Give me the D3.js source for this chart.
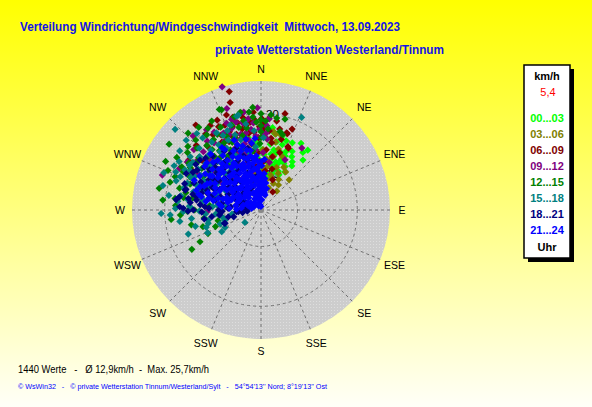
<!DOCTYPE html>
<html><head><meta charset="utf-8">
<script src="https://cdn.jsdelivr.net/npm/d3@7"></script>
<style>html,body{margin:0;padding:0;overflow:hidden;background:#fff;} svg{display:block;}</style>
</head><body>
<svg id="c" width="592" height="407"></svg>
<script>
// ---------- data ----------
const titleText = "Verteilung Windrichtung/Windgeschwindigkeit  Mittwoch, 13.09.2023";
const subtitleText = "private Wetterstation Westerland/Tinnum";
const statsText = "1440 Werte   -   \u00D8 12,9km/h  -  Max. 25,7km/h";
const creditText = "\u00A9 WsWin32   -   \u00A9 private Wetterstation Tinnum/Westerland/Sylt   -   54\u00B054'13'' Nord; 8\u00B019'13'' Ost";
const compassLabels = ["N","NNE","NE","ENE","E","ESE","SE","SSE","S","SSW","SW","WSW","W","WNW","NW","NNW"];
const ringTicks = [10, 20];
const speedDomain = [3.9, 25.3];
const legendUnit = "km/h";
const currentValue = "5,4";
const hourBins = ["00...03","03...06","06...09","09...12","12...15","15...18","18...21","21...24"];
const legendFoot = "Uhr";

// [direction in degrees, speed km/h] per 3-hour block
const s0003 = [[352,17.1],[350,16.2],[355,15.5],[358,14.8],[2,16.5],[5,15.8],[8,15.0],[10,16.9],[12,14.2],[14,17.2],[16,16.7],[18,15.4],[20,14.0],[22,13.1],[25,16.3],[26,12.6],[28,15.0],[30,14.2],[33,13.5],[36,15.8],[38,16.6],[40,14.8],[3,13.2],[6,12.4],[9,11.8],[12,12.8],[15,11.5],[18,11.3],[21,12.6],[24,11.0],[27,10.5],[7,10.2],[4,9.5],[11,9.8],[15,13.8],[19,12.0],[23,14.5],[29,12.2],[32,11.4],[1,14.0],[357,12.5],[0,11.0],[17,10.3],[13,15.6],[8,17.8],[348,16.8],[20,16.2],[24,13.8],[31,16.9],[35,12.9],[10,13.4],[17,12.3]];
const s0306 = [[9,17.2],[11,16.8],[14,17.0],[43,10.8],[25,10.7],[5,8.4],[8,11.2],[13,13.1],[25,8.8],[18,9.5],[30,9.8],[35,9.0],[20,11.5],[15,10.0],[10,9.0],[3,10.5],[358,9.5],[355,11.0],[350,8.5],[28,12.0],[22,13.5],[16,14.5],[12,15.5],[6,12.5],[0,7.5],[40,8.0],[33,11.5],[19,7.8],[352,10.2],[2,14.0]];
const s0609 = [[345,24.4],[344,22.6],[355.5,20.3],[348.7,20.4],[21,18.4],[24,15.2],[322.5,21.8],[19,17.4],[23,15.4],[0.4,19.2],[1,18.6],[1,18.0],[1.5,17.4],[2,16.8],[21,9.3],[33,7.5],[18.4,17.5],[304.5,18.6],[300,17.3],[327.5,18.8],[330,17.0],[335,16.5],[338,18.0],[340,15.5],[342,17.2],[345,19.0],[348,16.0],[350,18.2],[352,15.0],[355,17.0],[357,13.5],[333,19.5],[336,14.5],[325,15.8],[320,17.8],[315,19.2],[310,16.4],[5,14.0],[8,16.0],[12,13.0],[3,12.0],[10,19.0],[14,20.5],[340,20.8],[346,13.0],[352,11.5],[328,13.8],[318,14.8],[6,10.5],[15,11.0],
 [332,18.1],[334,20.6],[337,19.3],[339,17.0],[341,18.6],[343,20.1],[345,16.4],[347,17.8],[349,19.6],[351,16.9],[353,18.7],[356,19.0],[358,16.0],[359,17.8],[3,18.2],[6,17.2],[9,15.3],[16,16.2],[329,20.4],[324,19.6],[343,15.0],[354,13.8],[358,12.0],[13,17.8],[18,14.0]];
const s0912 = [[342.5,25.5],[341.4,21.8],[317.5,20.7],[289.5,21.4],[33.4,16.3],[25.6,13.2],[5.2,19.2],[4,18.0],[4,16.8],[5,15.8],[325.8,20.1],[338.4,19.5],[340.3,18.4],[342,19.8],[268.2,12.9],[315.3,17.6],[330,16.0],[334,18.2],[336,15.0],[345,17.0],[348,18.8],[350,15.8],[353,17.5],[356,16.3],[320,15.0],[310,14.0],[300,16.0],[322,18.5],[327,13.5],[333,12.5],[339,14.0],[343,12.0],[305,12.0],[295,14.5],[312,19.0],[350,20.5],[358,21.0],[2,13.5],[10,12.0],[347,10.5],[300,10.0],[290,11.5],[318,10.8],[330,10.0],[280,13.8],
 [325,17.6],[329,19.1],[332,16.9],[337,17.6],[341,16.4],[344,19.2],[346,15.3],[349,17.0],[352,19.3],[355,18.5],[359,17.4],[314,16.0],[308,17.4],[303,18.6],[297,19.2],[322,13.8],[331,14.6],[344,13.6],[355,14.0],[2,16.5]];
const s1215 = [[337.5,22.1],[355.4,21.1],[9.7,19.5],[14.8,19.6],[316.5,21.6],[305.6,22.8],[291.2,19.3],[298.6,19.0],[275.8,20.4],[266.4,17.4],[242.5,15.4],[240.4,17.2],[256,11.3],[13.6,17.4],[16,17.0],[324.1,19.4],[327,20.2],[277.7,18.4],[296.2,18.4],[338.5,21.9],[0,20.0],[0,19.0],[0,18.0],[0,17.0],[0,16.0],[359,15.0],[310,17.5],[315,16.5],[320,18.0],[325,16.0],[330,18.5],[335,17.5],[340,16.8],[345,18.2],[350,17.8],[305,16.0],[300,15.0],[295,17.0],[290,16.5],[285,18.0],[280,15.5],[312,14.0],[318,13.5],[322,15.0],[328,14.5],[308,19.5],[302,20.5],[284,14.5],[270,15.0],[262,13.5],[250,12.0],[275,12.5],[288,12.0],[298,13.0],[333,15.2],[343,14.5],[352,13.8],[5,17.5],[355,19.5],[348,20.6],
 [287,19.8],[293,20.8],[297,21.8],[303,18.3],[307,17.2],[311,20.1],[314,18.8],[317,19.9],[321,16.9],[323,21.2],[326,18.1],[331,20.9],[334,19.3],[337,16.2],[341,18.9],[344,20.1],[346,16.7],[349,19.1],[353,20.4],[357,18.6],[282,21.3],[279,17.0],[273,18.2],[269,16.2],[264,19.0],[258,15.8],[254,14.0],[246,13.6],[283,16.8],[289,14.9],[292,13.8],[301,17.7],[305,14.7],[309,15.3],[319,15.8],[324,13.2],[331,16.7],[338,13.5],[3,18.8],[6,19.9]];
const s1518 = [[23.7,20.8],[313.2,23.6],[300.6,19.8],[266.9,19.1],[251.7,16.7],[252.5,13.5],[255.8,13.0],[251.1,11.1],[241.1,11.4],[232.4,7.3],[292.4,18.5],[297.8,18.3],[296.2,16.5],[277.8,16.2],[285.1,15.6],[268.7,16.9],[271.4,15.5],[281.2,14.0],[346.6,20.2],[345.5,20.1],[296.8,16.3],[290,17.0],[300,15.5],[305,17.8],[310,16.0],[315,18.5],[320,17.0],[325,15.8],[330,18.8],[335,16.8],[340,19.0],[350,18.5],[355,17.2],[288,14.2],[293,13.5],[283,12.8],[278,13.8],[274,12.0],[265,11.5],[260,10.5],[300,12.5],[305,14.0],[312,13.0],[318,14.8],[308,11.5],[298,10.5],[286,10.8],[275,9.8],[262,8.8],[315,11.0],[322,12.2],[328,13.5],[335,14.0],[342,15.0],[348,13.8],[355,14.5],[2,16.0],[302,18.0],[294,19.5],[280,17.5],
 [286,17.3],[289,18.9],[291,15.4],[295,16.8],[299,17.4],[303,16.4],[307,18.7],[311,17.5],[314,15.2],[317,16.6],[321,19.4],[324,17.9],[327,16.9],[331,15.7],[333,17.9],[337,18.3],[341,17.2],[344,16.1],[279,19.5],[276,17.9],[273,15.9],[269,14.2],[266,13.2],[263,15.6],[259,12.9],[256,15.2],[247,13.6],[244,10.6],[254,10.2],[283,14.9],[287,12.2],[292,11.7],[297,14.6],[301,13.8],[306,12.8],[310,15.1],[316,12.4],[320,14.1],[326,11.8],[331,12.8],[284,20.8],[291,21.3],[297,20.2],[306,20.7],[313,21.0],[320,20.6],[271,18.2],[262,17.6],[268,20.6],[276,11.2]];
const s1821 = [[250.1,10.4],[266,8.0],[265,6.2],[284.7,17.0],[271.3,16.9],[270,15.2],[278.8,14.8],[309.3,17.1],[273.4,13.3],[270,11.0],[273,9.4],[262.3,12.2],[311.9,9.7],[265.7,7.7],[285.4,16.9],[279.2,17.7],[272.3,17.5],[281.7,14.9],[249.7,10.3],[290,13.5],[295,15.0],[300,14.0],[305,12.5],[310,13.5],[315,15.0],[320,12.0],[325,14.0],[330,11.5],[335,13.0],[340,10.5],[345,12.5],[350,9.5],[355,11.0],[288,11.0],[295,10.0],[300,9.0],[305,10.5],[285,12.5],[280,10.5],[276,9.0],[282,8.0],[290,7.5],[298,7.0],[310,8.0],[320,8.5],[330,7.5],[340,8.0],[350,7.0],[315,11.0],[325,9.5],[292,16.0],[302,16.5],[318,16.0],[328,15.5],[338,15.0],[348,14.5],[258,9.5],[268,13.8],[276,15.8],[286,14.2],
 [283,15.6],[287,13.2],[291,14.4],[294,12.4],[297,11.6],[299,16.9],[303,13.1],[307,15.8],[311,11.9],[313,14.3],[317,13.2],[322,13.9],[324,10.9],[327,12.6],[332,14.6],[336,12.0],[342,13.4],[347,11.2],[352,12.3],[357,9.9],[279,16.2],[275,14.1],[272,12.6],[268,10.4],[263,10.9],[256,8.6],[261,13.5],[269,16.1],[277,18.2],[282,11.7],[289,9.4],[293,8.6],[301,10.9],[306,9.1],[312,9.8],[319,10.2],[323,7.2],[334,9.6],[338,11.8],[344,9.1],[289,17.4],[296,17.8],[305,17.2],[313,16.6],[286,6.6],[279,6.9],[272,6.3],[262,7.0],[295,12.9],[308,14.8]];
const s2124 = [[282.6,14.1],[289.9,12.1],[273,9.2],[285.3,11.3],[346.6,14.2],[355.2,15.9],[316.7,13.5],[338.5,13.5],[1.8,7.7],[14.7,7.6],[14.9,6.5],[7.8,6.7],[359,4.5],[340,5.0],
 [290,10.0],[295,11.5],[300,12.8],[305,13.8],[310,14.5],[315,15.2],[320,14.0],[325,15.0],[330,13.0],[335,14.8],[340,15.5],[345,12.8],[350,14.0],[355,13.0],[0,12.0],[5,10.0],[10,8.5],
 [290,8.0],[295,9.0],[300,10.5],[305,11.5],[310,12.0],[315,12.8],[320,11.5],[325,12.5],[330,11.0],[335,12.0],[340,11.5],[345,10.5],[350,11.8],[355,10.5],[0,9.5],[5,8.0],
 [285,7.0],[292,6.5],[300,7.8],[305,8.5],[310,9.5],[315,10.2],[320,9.0],[325,10.0],[330,8.5],[335,9.5],[340,9.0],[345,8.2],[350,9.0],[355,8.0],[0,7.0],
 [280,5.5],[295,5.2],[305,6.0],[315,6.8],[320,5.5],[325,7.2],[330,6.0],[335,7.0],[340,6.5],[345,5.8],[350,6.2],[355,5.5],
 [298,13.5],[308,15.8],[318,16.5],[328,16.2],[312,10.8],[322,13.2],[332,14.0],[342,13.0],[348,16.0],[352,12.5],[302,9.5],[287,9.8],[280,8.2],[278,11.0],[283,12.8],[293,14.2],[303,15.0],[313,7.5],[327,8.0],[337,10.5],[357,11.2],[3,9.0],
 [288,13.2],[291,14.8],[296,12.4],[299,15.6],[304,14.2],[307,12.9],[311,15.9],[314,13.7],[317,11.6],[319,14.9],[323,10.7],[326,13.9],[329,15.7],[331,12.3],[334,10.2],[336,13.4],[339,12.2],[341,14.3],[344,11.4],[346,9.6],[349,13.1],[351,10.9],[353,8.7],[356,12.1],[358,10.1],[1,11.3],[4,12.4],[7,9.2],[2,8.3],[357,6.6],[352,7.4],[347,7.1],[343,6.9],[338,8.2],[333,8.9],[328,9.3],[323,8.1],[318,7.7],[313,9.1],[308,7.3],[303,8.4],[297,8.1],[293,7.9],[289,9.1],[286,10.5],[283,9.6],[281,12.0],[284,14.6],[287,15.2],[294,16.1],[301,11.3],[306,10.1],[309,11.2],[316,8.8],[321,10.4],[324,11.6],[332,9.9],[336,11.3],[341,10.0],[346,11.9],[354,9.4],[359,8.6],[6,7.2],[11,6.8],[4,5.6],[348,4.8],[330,4.7],[312,5.3],[300,6.4],[288,6.1],[276,7.2],[272,8.0],[275,10.5],[279,13.2],[296,13.9],[311,13.1],[327,12.6],[339,16.4],[344,15.0],[352,15.2]];
const seriesList = [s0003, s0306, s0609, s0912, s1215, s1518, s1821, s2124];

// ---------- styles ----------
const binColors = ["#00ff00","#808000","#800000","#800080","#008000","#008080","#000080","#0000ff"];
const FONT = "'Liberation Sans', Arial, sans-serif";

const svg = d3.select("#c");
const W = 592, H = 407;
const defs = svg.append("defs");
const grad = defs.append("linearGradient").attr("id","bg").attr("x1",0).attr("y1",0).attr("x2",0).attr("y2",1);
grad.append("stop").attr("offset","0%").attr("stop-color","#ffff00");
grad.append("stop").attr("offset","100%").attr("stop-color","#fffff8");
svg.append("rect").attr("width",W).attr("height",H).attr("fill","url(#bg)");
const pat = defs.append("pattern").attr("id","dots").attr("patternUnits","userSpaceOnUse")
  .attr("width",3).attr("height",3);
pat.append("rect").attr("width",3).attr("height",3).attr("fill","#cdcdcd");
pat.append("rect").attr("x",1).attr("y",1).attr("width",1).attr("height",1).attr("fill","#dedede");

// titles
svg.append("text").attr("x",20).attr("y",31).attr("font-family",FONT).attr("font-weight","bold")
  .attr("font-size",13.5).attr("fill","#1414e6").attr("textLength",380).attr("lengthAdjust","spacingAndGlyphs")
  .style("white-space","pre").text(titleText);
svg.append("text").attr("x",215).attr("y",54).attr("font-family",FONT).attr("font-weight","bold")
  .attr("font-size",13.5).attr("fill","#1414e6").attr("textLength",229).attr("lengthAdjust","spacingAndGlyphs")
  .text(subtitleText);

// polar chart
const cx = 261, cy = 210, R = 129;
const rScale = d3.scaleLinear().domain(speedDomain).range([0, 128]);
const aScale = d3.scaleLinear().domain([0, 360]).range([0, 2 * Math.PI]);
const g = svg.append("g").attr("transform", `translate(${cx},${cy})`);

g.append("circle").attr("r", R).attr("fill", "url(#dots)");

const dirs = compassLabels.map((d, i) => ({label: d, deg: i * 22.5}));
g.selectAll("line.spoke").data(dirs).join("line").attr("class","spoke")
  .attr("x1",0).attr("y1",0)
  .attr("x2", d => d3.pointRadial(aScale(d.deg), R)[0])
  .attr("y2", d => d3.pointRadial(aScale(d.deg), R)[1])
  .attr("stroke","#707070").attr("stroke-width",1).attr("stroke-dasharray","3,3");
g.selectAll("circle.ring").data(ringTicks).join("circle").attr("class","ring")
  .attr("r", d => rScale(d)).attr("fill","none")
  .attr("stroke","#707070").attr("stroke-width",1).attr("stroke-dasharray","3,3");
g.selectAll("text.ringlab").data(ringTicks).join("text").attr("class","ringlab")
  .attr("x", 5).attr("y", d => -rScale(d)).attr("dy","0.36em")
  .attr("font-family",FONT).attr("font-size",11.5).attr("fill","#000").text(d => d);

const labR = d => 141 + 5 * Math.abs(Math.sin(aScale(d.deg) * 2));
g.selectAll("text.comp").data(dirs).join("text").attr("class","comp")
  .attr("x", d => d3.pointRadial(aScale(d.deg), labR(d))[0])
  .attr("y", d => d3.pointRadial(aScale(d.deg), labR(d))[1])
  .attr("dy","0.36em").attr("text-anchor","middle")
  .attr("font-family",FONT).attr("font-size",10.5).attr("fill","#000").text(d => d.label);

g.append("rect").attr("x",-2.5).attr("y",-2.5).attr("width",5).attr("height",5).attr("fill","#888");

const diamond = "M0,-3.6L3.6,0L0,3.6L-3.6,0Z";
seriesList.forEach((ser, i) => {
  g.append("g").selectAll("path").data(ser).join("path")
    .attr("d", diamond)
    .attr("transform", d => { const p = d3.pointRadial(aScale(d[0]), rScale(d[1])); return `translate(${p[0]},${p[1]})`; })
    .attr("fill", binColors[i]);
});

// legend
const lx = 524, ly = 65, lw = 46, lh = 193;
svg.append("rect").attr("x",lx+4).attr("y",ly+4).attr("width",lw).attr("height",lh).attr("fill","#000");
svg.append("rect").attr("x",lx).attr("y",ly).attr("width",lw).attr("height",lh).attr("fill","#fff")
  .attr("stroke","#000").attr("stroke-width",1.5);
const lcx = lx + lw / 2;
svg.append("text").attr("x",lcx).attr("y",76).attr("dy","0.36em").attr("text-anchor","middle")
  .attr("font-family",FONT).attr("font-weight","bold").attr("font-size",11).text(legendUnit);
svg.append("text").attr("x",lcx+1).attr("y",92).attr("dy","0.36em").attr("text-anchor","middle")
  .attr("font-family",FONT).attr("font-size",11).attr("fill","#ff0000").text(currentValue);
svg.selectAll("text.bin").data(hourBins).join("text").attr("class","bin")
  .attr("x",lcx).attr("y",(d,i) => 118 + i * 16.05).attr("dy","0.36em").attr("text-anchor","middle")
  .attr("font-family",FONT).attr("font-weight","bold").attr("font-size",11)
  .attr("fill",(d,i) => binColors[i]).text(d => d);
svg.append("text").attr("x",lcx).attr("y",247).attr("dy","0.36em").attr("text-anchor","middle")
  .attr("font-family",FONT).attr("font-weight","bold").attr("font-size",11).text(legendFoot);

// footer
svg.append("text").attr("x",18).attr("y",373).attr("font-family",FONT).attr("font-size",11.5)
  .attr("fill","#000").attr("textLength",191).attr("lengthAdjust","spacingAndGlyphs")
  .style("white-space","pre").text(statsText);
svg.append("text").attr("x",18).attr("y",389).attr("font-family",FONT).attr("font-size",8)
  .attr("fill","#0000ff").attr("textLength",309).attr("lengthAdjust","spacingAndGlyphs")
  .style("white-space","pre").text(creditText);
</script>
</body></html>
